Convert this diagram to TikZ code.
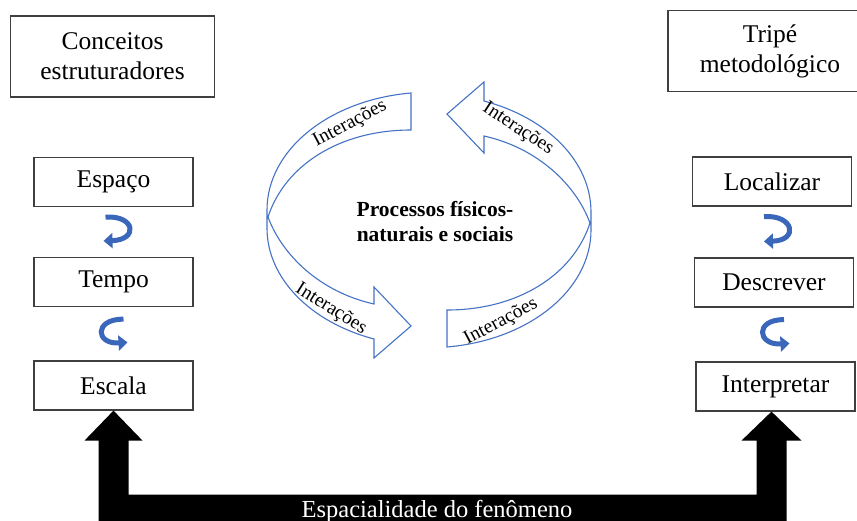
\documentclass[tikz,border=0pt]{standalone}
\usepackage{fontspec}
\setmainfont{Liberation Serif}
\usepackage{xcolor}
\usepackage{tikz}
\usetikzlibrary{calc,arrows.meta}
\definecolor{boxline}{HTML}{3F3F3F}
\definecolor{ringblue}{HTML}{4472C4}
\definecolor{turnblue}{HTML}{3A67BA}
\tikzset{
  box/.style={draw=boxline, line width=1.2pt, inner sep=0pt,
    minimum width=159pt, minimum height=49pt,
    font=\fontsize{25.5}{30}\selectfont},
  headbox/.style={box, align=center, minimum width=204pt, minimum height=81pt},
  ring/.style={draw=ringblue, line width=1.1pt, line join=miter},
  inter/.style={font=\fontsize{19.5}{21}\selectfont, inner sep=0pt},
  centre/.style={font=\bfseries\fontsize{21.5}{25}\selectfont, align=center},
  turn/.style={draw=turnblue, line width=5pt, -{Triangle[length=9pt,width=15pt]}},
  band/.style={fill=black}
}
\begin{document}
\begin{tikzpicture}[x=1pt,y=-1pt]
  \useasboundingbox (0,0) rectangle (857,520);

  \node[headbox] (conceitos) at (112.5,56.5) {Conceitos\\estruturadores};
  \node[headbox] (tripe) at (770,51) {Tripé\\metodológico};

  \foreach \n/\t/\x/\y in {espaco/Espaço/113.5/182, tempo/Tempo/113.5/282,
      escala/Escala/113.5/385.5, localizar/Localizar/772/181.5,
      descrever/Descrever/774/282.5, interpretar/Interpretar/775.5/386.5}{
    \node[box] (\n) at (\x,\y) {\t};
  }

  \foreach \a/\b/\c in {espaco/tempo/escala, localizar/descrever/interpretar}{
    \draw[turn] ([xshift=-8pt,yshift=-10pt]\a.south) .. controls +(30,-2) and +(35,-1) .. ([xshift=-10pt,yshift=16pt]\b.north);
    \draw[turn] ([xshift=10pt,yshift=-12pt]\b.south) .. controls +(-30,0) and +(-32,2) .. ([xshift=14pt,yshift=18pt]\c.north);
  }

  \foreach \r in {0,180}{
    \draw[ring, rotate around={\r:(429,220)}] (411,93) -- (411,130)
      .. controls (340,130) and (285,165) .. (268,217)
      .. controls (282,255) and (320,292) .. (374,304)
      -- (374,287) -- (411,326) -- (374,358) -- (374,339)
      .. controls (310,322) and (267,278) .. (267,228) -- (267,210)
      .. controls (267,150) and (329,100) .. cycle;
  }
  \foreach \i/\x/\y/\a in {1/350/124/28, 2/518/129/-33, 3/331/309/-32, 4/501/322/28}{
    \node[inter, rotate=\a] (inter\i) at (\x,\y) {Interações};
  }
  \node[centre] (processos) at (435,222) {Processos físicos-\\naturais e sociais};

  \coordinate (tipR) at ([xshift=-4pt]interpretar.south);
  \fill[band] (escala.south) -- ++(29,30) -- ++(-14,0) |- ($(tipR)+(-15,83)$)
    -- ($(tipR)+(-15,29)$) -- ++(-15,0) -- (tipR) -- ++(30,29) -- ++(-15,0)
    -- ++(0,100) -| ($(escala.south)+(-15,30)$) -- ++(-14,0) -- cycle;
  \node[anchor=base, text=white, font=\fontsize{24.5}{28}\selectfont] (espacialidade) at (437,517) {Espacialidade do fenômeno};
\end{tikzpicture}
\end{document}
